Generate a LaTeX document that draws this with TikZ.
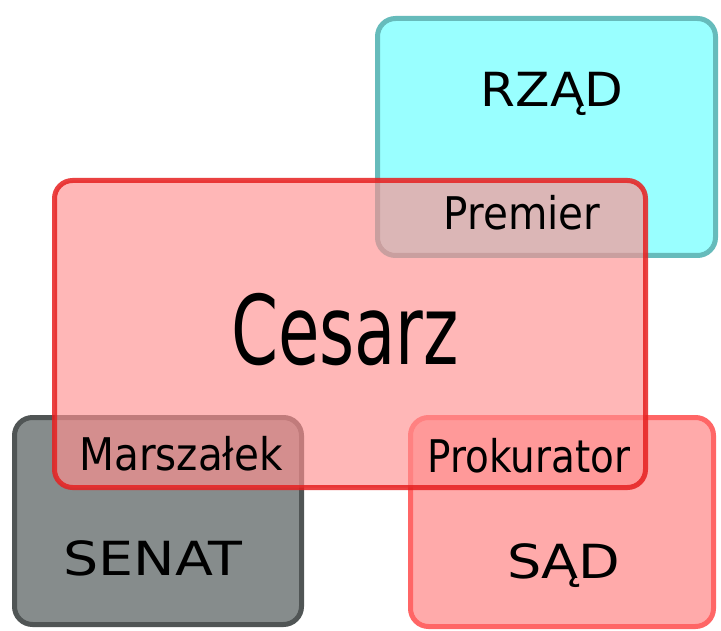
\documentclass[tikz,border=0pt]{standalone}
\usepackage{fontspec}
\setmainfont{DejaVu Sans}
\newfontfamily\condfont{DejaVu Sans Condensed}
\usetikzlibrary{positioning}

\definecolor{rzadfill}{HTML}{99FFFF}
\definecolor{rzadline}{HTML}{66BBBB}
\definecolor{senatfill}{HTML}{868C8C}
\definecolor{senatline}{HTML}{505555}
\definecolor{sadfill}{HTML}{FFAAAA}
\definecolor{sadline}{HTML}{FF6666}
\definecolor{cesarzfill}{HTML}{FF9090}
\definecolor{cesarzline}{HTML}{E62020}

\tikzset{
  box/.style={rectangle, rounded corners=18pt, line width=5pt, inner sep=0pt},
  bigname/.style={anchor=base, font=\fontsize{47}{50}\selectfont},
  smallname/.style={anchor=base, font=\condfont\fontsize{45}{48}\selectfont},
}

\begin{document}
\begin{tikzpicture}[x=1pt,y=-1pt]
                \useasboundingbox (0,0) rectangle (721,631);

                % instytucje
                \node[box, draw=rzadline, fill=rzadfill, minimum width=338pt, minimum height=237pt] (rzad) at (546.5,137) {};
                \node[box, draw=senatline, fill=senatfill, minimum width=287pt, minimum height=207pt] (senat) at (158,521) {};
                \node[box, draw=sadline, fill=sadfill, minimum width=303pt, minimum height=209pt] (sad) at (562,522) {};
                \node[box, draw=cesarzline, draw opacity=0.85, fill=cesarzfill, fill opacity=0.65, minimum width=591pt, minimum height=307pt] (cesarz) at (350,334) {};

                \node[bigname, xscale=1.07] (rzadlabel) at (552,107) {RZĄD};
                \node[bigname, xscale=1.18] (senatlabel) at (153,575) {SENAT};
                \node[bigname, xscale=1.15] (sadlabel) at (564,578) {SĄD};

                \node[smallname] (premier) at (522,230) {Premier};
                \node[smallname] (marszalek) at (181,470) {Marszałek};
                \node[smallname, xscale=0.96] (prokurator) at (529,472) {Prokurator};
                \node[anchor=base, xscale=0.78, font=\condfont\fontsize{96}{100}\selectfont] (cesarzlabel) at (345,365) {Cesarz};
\end{tikzpicture}
\end{document}
